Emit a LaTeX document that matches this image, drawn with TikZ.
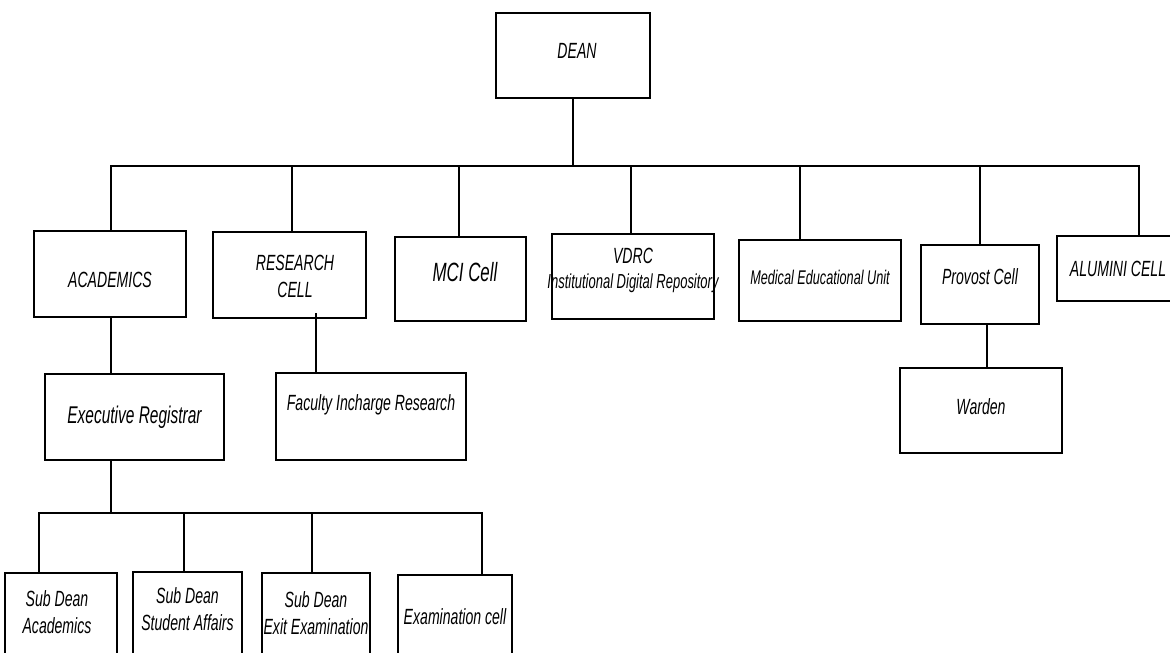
\documentclass[tikz,border=0pt]{standalone}
\usepackage{fontspec}
\setmainfont[FakeStretch=0.64]{Liberation Sans}
\begin{document}
\begin{tikzpicture}[x=1pt,y=-1pt,
  box/.style={draw,line width=1.8pt,inner sep=0pt},
  lbl/.style={font=\itshape\fontsize{22}{27}\selectfont,align=center,inner sep=0pt},
  link/.style={line width=1.5pt}]
\useasboundingbox (0,0) rectangle (1170,653);
\clip (0,0) rectangle (1170,653);
% top
\node[box,minimum width=154,minimum height=85,
  label={[lbl,xshift=4pt,yshift=4.5pt]center:DEAN}] (dean) at (573,55.5) {};
\coordinate (hub) at (573,166);
% first row
\node[box,minimum width=152,minimum height=86,
  label={[lbl,yshift=-6pt]center:ACADEMICS}] (acad) at (110,274) {};
\node[box,minimum width=153,minimum height=86,
  label={[lbl,xshift=5.5pt,yshift=-1.5pt]center:RESEARCH\\CELL}] (res) at (289.5,275) {};
\node[box,minimum width=131,minimum height=84,
  label={[lbl,font=\itshape\fontsize{26.4}{27}\selectfont,xshift=4.5pt,yshift=7pt]center:MCI Cell}] (mci) at (460.5,279) {};
\node[box,minimum width=162,minimum height=85,
  label={[lbl,yshift=6pt]center:VDRC\\[-2pt]{\fontsize{20.3}{22}\selectfont Institutional Digital Repository}}] (vdrc) at (633,276.5) {};
\node[box,minimum width=162,minimum height=81,
  label={[lbl,font=\itshape\fontsize{19.8}{22}\selectfont,yshift=3.5pt]center:Medical Educational Unit}] (meu) at (820,280.5) {};
\node[box,minimum width=118,minimum height=79,
  label={[lbl,yshift=7.5pt]center:Provost Cell}] (prov) at (980,284.5) {};
\node[box,minimum width=120,minimum height=65,
  label={[lbl,xshift=1pt]center:ALUMINI CELL}] (alum) at (1117,268.5) {};
% second row
\node[box,minimum width=179,minimum height=86,
  label={[lbl,font=\itshape\fontsize{24.2}{27}\selectfont]center:Executive Registrar}] (exec) at (134.5,417) {};
\node[box,minimum width=190,minimum height=87,
  label={[lbl,yshift=11.5pt]center:Faculty Incharge Research}] (fac) at (371,416.5) {};
\node[box,minimum width=162,minimum height=85,
  label={[lbl,yshift=3.5pt]center:Warden}] (warden) at (981,410.5) {};
\coordinate (hub2) at (111,513);
% third row
\node[box,minimum width=112,minimum height=100,
  label={[lbl,xshift=-4pt,yshift=11pt]center:Sub Dean\\Academics}] (sda) at (61,623) {};
\node[box,minimum width=109,minimum height=100,
  label={[lbl,yshift=13pt]center:Sub Dean\\Student Affairs}] (sdsa) at (187.5,622) {};
\node[box,minimum width=108,minimum height=100,
  label={[lbl,yshift=9.5pt]center:Sub Dean\\Exit Examination}] (sdee) at (316,623) {};
\node[box,minimum width=114,minimum height=100,
  label={[lbl,yshift=8pt]center:Examination cell}] (exc) at (455,625) {};
% connectors
\draw[link] (dean.south) -- (hub);
\draw[link] (111,0 |- acad.north) -- (111,0 |- hub) -- (1139,0 |- hub) -- (1139,0 |- alum.north);
\foreach \n/\x in {res/292,mci/459,vdrc/631,meu/800,prov/980}
  \draw[link] (\x,0 |- hub) -- (\x,0 |- \n.north);
\draw[link] (111,0 |- acad.south) -- (111,0 |- exec.north);
\draw[link] (316,313) -- (316,0 |- fac.north);
\draw[link] (987,0 |- prov.south) -- (987,0 |- warden.north);
\draw[link] (111,0 |- exec.south) -- (hub2);
\draw[link] (39,0 |- sda.north) -- (39,0 |- hub2) -- (482,0 |- hub2) -- (482,0 |- exc.north);
\foreach \n/\x in {sdsa/184,sdee/312}
  \draw[link] (\x,0 |- hub2) -- (\x,0 |- \n.north);
\end{tikzpicture}
\end{document}
